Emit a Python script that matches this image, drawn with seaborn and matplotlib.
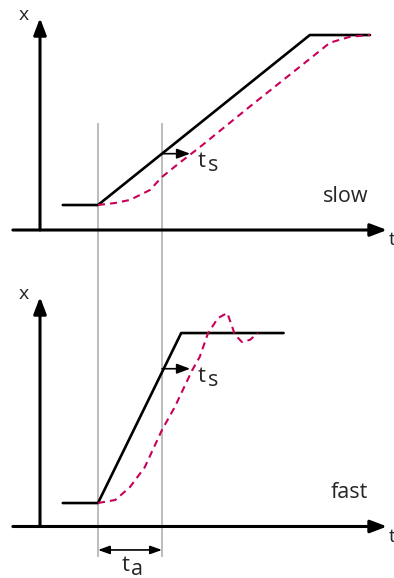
import pandas as pd
import matplotlib.pyplot as plt
import seaborn as sns

sns.set_style("white")
plt.rcParams["font.family"] = ["Open Sans", "DejaVu Sans"]

# time unit = t_a, position unit = step height
slow_cmd_t = [-0.55, 0.0, 3.31, 4.25]
slow_cmd_x = [0.0, 0.0, 1.0, 1.0]
slow_resp_t = [0.0, 0.27, 0.5, 0.81, 1.0, 1.28, 1.59, 2.375, 3.31, 3.625, 3.94, 4.25]
slow_resp_x = [0.0, 0.012, 0.03, 0.088, 0.165, 0.25, 0.34, 0.58, 0.86, 0.955, 0.99, 1.0]

fast_cmd_t = [-0.55, 0.0, 1.3, 2.9]
fast_cmd_x = [0.0, 0.0, 1.0, 1.0]
fast_resp_t = [0.0, 0.27, 0.5, 0.73, 1.0, 1.2, 1.47, 1.59, 1.72, 1.875, 2.02, 2.14, 2.25, 2.375, 2.5]
fast_resp_x = [0.0, 0.018, 0.094, 0.21, 0.43, 0.565, 0.78, 0.86, 1.0, 1.088, 1.118, 0.99, 0.947, 0.96, 1.0]

t_accel = [0.0, 1.0]

panels = [
    ("slow", slow_cmd_t, slow_cmd_x, slow_resp_t, slow_resp_x, (-0.494, 1.206), -0.147, 1.10, 0.224),
    ("fast", fast_cmd_t, fast_cmd_x, fast_resp_t, fast_resp_x, (-0.441, 1.259), -0.138, 1.212, 0.712),
]

red = "#c8005a"


def sub_label(ax, x, y, main, sub):
    # letter with a lowered, near full-size subscript
    ax.text(x, y, main, fontsize=16, ha="left", va="baseline")
    ax.annotate(sub, xy=(x, y), xytext=(6.8, -3.2), textcoords="offset points",
                fontsize=15.5, ha="left", va="baseline")


fig = plt.figure(figsize=(3.94, 5.78), dpi=100)
axes = [fig.add_axes([0, 0.5, 1, 0.5]), fig.add_axes([0, 0, 1, 0.5])]

for ax, (name, ct, cx, rt, rx, ylim, x0, ytip, ts_x) in zip(axes, panels):
    ax.set_xlim(-1.531, 4.625)
    ax.set_ylim(*ylim)
    ax.axis("off")

    cmd = pd.DataFrame({"t": ct, "x": cx})
    resp = pd.DataFrame({"t": rt, "x": rx})
    sns.lineplot(data=cmd, x="t", y="x", sort=False, estimator=None, color="black",
                 lw=1.9, ax=ax, zorder=3)
    sns.lineplot(data=resp, x="t", y="x", sort=False, estimator=None, color=red,
                 lw=1.5, linestyle=(0, (3.4, 2.4)), ax=ax, zorder=4)

    # coordinate axes with arrows
    ax.annotate("", xy=(4.516, x0), xytext=(-1.33, x0),
                arrowprops=dict(arrowstyle="-|>,head_length=1.0,head_width=0.38",
                                lw=2.2, color="black", shrinkA=0, shrinkB=0, mutation_scale=10))
    ax.annotate("", xy=(-0.906, ytip), xytext=(-0.906, x0),
                arrowprops=dict(arrowstyle="-|>,head_length=1.0,head_width=0.38",
                                lw=2.2, color="black", shrinkA=0, shrinkB=0, mutation_scale=10))
    ax.text(-1.156, ytip + 0.02, "x", fontsize=14, ha="center", va="center")
    ax.text(4.55, x0 - 0.06, "t", fontsize=14, ha="left", va="center")
    ax.text(4.22, x0 + 0.2, name, fontsize=15.5, ha="right", va="center")

    # settling-time arrow
    ax.annotate("", xy=(1.44, ts_x + 0.078), xytext=(1.0, ts_x + 0.078),
                arrowprops=dict(arrowstyle="-|>,head_length=0.8,head_width=0.3",
                                lw=1.2, color="black", shrinkA=0, shrinkB=0, mutation_scale=10))
    sub_label(ax, 1.5625, ts_x, "t", "s")

top, bottom = axes
# guide lines spanning both panels
top.vlines(t_accel, -2.07, 0.482, color="#b0b0b0", lw=1.2, clip_on=False, zorder=1)
bottom.annotate("", xy=(t_accel[1], -0.276), xytext=(t_accel[0], -0.276),
                arrowprops=dict(arrowstyle="<|-|>,head_length=0.7,head_width=0.25",
                                lw=1.2, color="black", shrinkA=0, shrinkB=0, mutation_scale=10))
sub_label(bottom, 0.375, -0.398, "t", "a")

fig.savefig("out.png", dpi=100)
